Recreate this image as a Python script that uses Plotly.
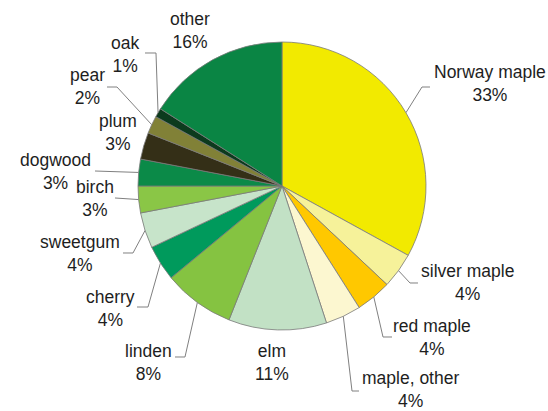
import math
import plotly.graph_objects as go

# ---- data ----
species = ["Norway maple", "silver maple", "red maple", "maple, other", "elm",
           "linden", "cherry", "sweetgum", "birch", "dogwood", "plum", "pear",
           "oak", "other"]
shares = [33, 4, 4, 4, 11, 8, 4, 4, 3, 3, 3, 2, 1, 16]
colors = ["#F2EA00", "#F6F29A", "#FFC800", "#FCF7D0", "#C2E1C5", "#85C341",
          "#009A5C", "#C7E4CA", "#8AC646", "#0B8A48", "#342F17", "#818137",
          "#0C3A1D", "#0A8544"]

# ---- layout (pixels) ----
W, H = 548, 411
CX, CY, R = 282, 186, 144

# label centres (px) and leader-line text-side points (px), per slice
label_pos = {
    "Norway maple": (490, 84), "silver maple": (467, 282), "red maple": (432, 337),
    "maple, other": (410, 389), "elm": (272, 362), "linden": (148, 362),
    "cherry": (110, 308), "sweetgum": (80, 253), "birch": (95, 198),
    "dogwood": (55, 172), "plum": (118, 133), "pear": (87, 87),
    "oak": (125, 54), "other": (190, 30),
}
leader_pts = {
    "Norway maple": [(422, 87), (430, 87)],
    "silver maple": [(410, 283), (418, 283)],
    "red maple": [(383, 337), (392, 337)],
    "maple, other": [(352, 391), (359, 391)],
    "linden": [(185, 357), (175, 357)],
    "cherry": [(148, 307), (137, 307)],
    "sweetgum": [(133, 253), (123, 253)],
    "birch": [(115, 198)],
    "dogwood": [(95, 171)],
    "pear": [(117, 87), (107, 87)],
    "oak": [(156, 53), (145, 53)],
}

def px(x, y):
    return x / W, 1 - y / H

fig = go.Figure(go.Pie(
    labels=species, values=shares, sort=False, direction="clockwise",
    rotation=0, textinfo="none", hoverinfo="label+percent",
    marker=dict(colors=colors, line=dict(color="#7a7a7a", width=0.8)),
    domain=dict(x=[(CX - R) / W, (CX + R) / W], y=[1 - (CY + R) / H, 1 - (CY - R) / H]),
    showlegend=False,
))

total = sum(shares)
cum = 0
shapes = []
annotations = []
for name, v in zip(species, shares):
    mid = (cum + v / 2) / total * 2 * math.pi
    cum += v
    ex = CX + R * math.sin(mid)
    ey = CY - R * math.cos(mid)
    lx, ly = label_pos[name]
    x0, y0 = px(lx, ly)
    annotations.append(dict(
        x=x0, y=y0, xref="paper", yref="paper", xanchor="center", yanchor="middle",
        text=f"{name}<br>{v}%", showarrow=False, align="center",
        font=dict(family="Liberation Sans, Arial", size=17.5, color="#1e1e1e"),
    ))
    if name in leader_pts:
        pts = [(ex, ey)] + leader_pts[name]
        conv = [px(a, b) for a, b in pts]
        path = "M " + " L ".join(f"{a:.5f},{b:.5f}" for a, b in conv)
        shapes.append(dict(type="path", path=path, xref="paper", yref="paper",
                           line=dict(color="#808080", width=1)))

fig.update_layout(
    width=W, height=H, margin=dict(l=0, r=0, t=0, b=0),
    paper_bgcolor="white", plot_bgcolor="white",
    shapes=shapes, annotations=annotations,
)
fig.write_html("out.html", config={"displayModeBar": False},
               post_script="document.body.style.margin='0';")
